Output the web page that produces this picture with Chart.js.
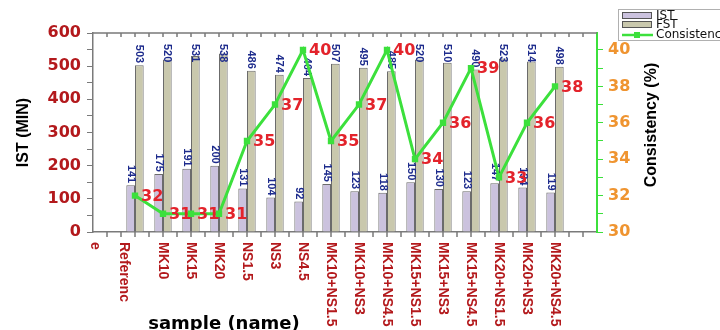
<!DOCTYPE html>
<html>
<head>
<meta charset="utf-8">
<title>IST / FST / Consistency</title>
<script src="https://cdn.jsdelivr.net/npm/chart.js@4/dist/chart.umd.min.js"></script>
<style>
    html, body { margin: 0; padding: 0; background: #fff; overflow: hidden; }
    #chart { display: block; }
</style>
</head>
<body>
<canvas id="chart" width="720" height="350"></canvas>
<script>
let categories = [['Referenc', 'e'], 'MK10', 'MK15', 'MK20', 'NS1.5', 'NS3', 'NS4.5',
    'MK10+NS1.5', 'MK10+NS3', 'MK10+NS4.5', 'MK15+NS1.5', 'MK15+NS3', 'MK15+NS4.5',
    'MK20+NS1.5', 'MK20+NS3', 'MK20+NS4.5'];
let istValues = [141, 175, 191, 200, 131, 104, 92, 145, 123, 118, 150, 130, 123, 147, 134, 119];
let fstValues = [503, 520, 531, 538, 486, 474, 464, 507, 495, 485, 520, 510, 490, 523, 514, 498];
let consistencyValues = [32, 31, 31, 31, 35, 37, 40, 35, 37, 40, 34, 36, 39, 33, 36, 38];
let istTicks = [0, 100, 200, 300, 400, 500, 600];
let consistencyTicks = [30, 32, 34, 36, 38, 40];
// right axis runs a little past 40 in the original
let consistencyMax = 40.93;

let istColor = '#cbc2de';
let fstColor = '#c9c8ad';
let lineColor = '#3ce03c';
let darkRed = '#b3191c';
let navy = '#1d2b8c';
let red = '#e3232b';
let orange = '#ef9430';
let axisGray = '#7a7a7a';

// the original axis leaves an empty slot at both ends
let labels = [''].concat(categories, ['']);
function pad(values) {
    return [null].concat(values, [null]);
}

function drawRotated(ctx, text, x, y, angle, align) {
    ctx.save();
    ctx.translate(x, y);
    ctx.rotate(angle);
    ctx.textAlign = align;
    ctx.textBaseline = 'middle';
    ctx.fillText(text, 0, 0);
    ctx.restore();
}

let decorations = {
    id: 'decorations',
    afterDatasetDraw(chart, args) {
        let meta = args.meta;
        if (meta.type !== 'bar') return;
        let ctx = chart.ctx;
        let top = chart.chartArea.top;
        let data = chart.data.datasets[args.index].data;
        ctx.save();
        ctx.font = 'bold 11px "Liberation Sans", Arial, sans-serif';
        ctx.fillStyle = navy;
        meta.data.forEach((bar, i) => {
            if (data[i] == null) return;
            let text = String(data[i]);
            let w = ctx.measureText(text).width;
            let endY = Math.max(bar.y - 2, top + 11 + w);
            drawRotated(ctx, text, bar.x, endY, Math.PI / 2, 'right');
        });
        ctx.restore();
    },
    afterDatasetsDraw(chart) {
        let ctx = chart.ctx;
        let area = chart.chartArea;
        let x = chart.scales.x;
        let step = x.getPixelForValue(1) - x.getPixelForValue(0);

        // frame top line and the small ticks on top and bottom
        ctx.save();
        ctx.strokeStyle = axisGray;
        ctx.lineWidth = 1.5;
        ctx.beginPath();
        ctx.moveTo(area.left, area.top);
        ctx.lineTo(area.right, area.top);
        for (let k = 1; k < labels.length * 2; k++) {
            let px = area.left + k * step / 2;
            ctx.moveTo(px, area.top);
            ctx.lineTo(px, area.top + 4);
            ctx.moveTo(px, area.bottom);
            ctx.lineTo(px, area.bottom + 5);
        }
        ctx.stroke();
        ctx.restore();

        // consistency values next to the points
        let lineMeta = chart.getDatasetMeta(0);
        let lineData = chart.data.datasets[0].data;
        ctx.save();
        ctx.font = 'bold 16px "DejaVu Sans", sans-serif';
        ctx.fillStyle = red;
        ctx.textAlign = 'left';
        ctx.textBaseline = 'middle';
        lineMeta.data.forEach((pt, i) => {
            if (lineData[i] == null) return;
            ctx.fillText(String(lineData[i]), pt.x + 6, pt.y + 1);
        });
        ctx.restore();

        // category names, read top to bottom
        ctx.save();
        ctx.font = 'bold 14px "Liberation Sans", Arial, sans-serif';
        ctx.fillStyle = darkRed;
        categories.forEach((name, i) => {
            let cx = x.getPixelForValue(i + 1);
            let lines = Array.isArray(name) ? name : [name];
            lines.forEach((line, j) => {
                let lx = lines.length > 1 ? cx - 11 - 29 * j : cx;
                drawRotated(ctx, line, lx, area.bottom + 10, Math.PI / 2, 'left');
            });
        });
        ctx.restore();

        // axis titles
        ctx.save();
        ctx.fillStyle = '#000';
        ctx.font = 'bold 16px "Liberation Sans", Arial, sans-serif';
        drawRotated(ctx, 'IST (MIN)', 24, (area.top + area.bottom) / 2, -Math.PI / 2, 'center');
        drawRotated(ctx, 'Consistency (%)', 652, 125, -Math.PI / 2, 'center');
        ctx.font = 'bold 18px "DejaVu Sans", sans-serif';
        ctx.textAlign = 'center';
        ctx.textBaseline = 'alphabetic';
        ctx.fillText('sample (name)', 224, 329);
        ctx.restore();

        // legend box in the top right corner
        ctx.save();
        ctx.strokeStyle = '#b0b0b0';
        ctx.lineWidth = 1;
        ctx.strokeRect(618.5, 9.5, 120, 31);
        ctx.strokeStyle = '#555';
        ctx.fillStyle = istColor;
        ctx.fillRect(622, 12, 30, 7);
        ctx.strokeRect(622.5, 12.5, 29, 6);
        ctx.fillStyle = fstColor;
        ctx.fillRect(622, 21, 30, 7);
        ctx.strokeRect(622.5, 21.5, 29, 6);
        ctx.strokeStyle = lineColor;
        ctx.lineWidth = 2.5;
        ctx.beginPath();
        ctx.moveTo(622, 35);
        ctx.lineTo(653, 35);
        ctx.stroke();
        ctx.fillStyle = lineColor;
        ctx.fillRect(634, 32, 6, 6);
        ctx.fillStyle = '#111';
        ctx.font = '12px "DejaVu Sans", sans-serif';
        ctx.textAlign = 'left';
        ctx.textBaseline = 'middle';
        ctx.fillText('IST', 656, 15.5);
        ctx.fillText('FST', 656, 25);
        ctx.fillText('Consistency', 656, 35);
        ctx.restore();
    }
};

function drawChart() {
    let ctx = document.getElementById('chart').getContext('2d');

    new Chart(ctx, {
        type: 'bar',
        data: {
            labels: labels,
            datasets: [{
                type: 'line',
                label: 'Consistency',
                data: pad(consistencyValues),
                yAxisID: 'y2',
                order: 0,
                borderColor: lineColor,
                backgroundColor: lineColor,
                borderWidth: 3,
                pointStyle: 'rect',
                pointRadius: 4.5,
                pointBorderWidth: 0,
                tension: 0
            }, {
                label: 'IST',
                data: pad(istValues),
                yAxisID: 'y',
                order: 1,
                backgroundColor: istColor,
                borderColor: '#6b6b6b',
                borderWidth: 1,
                barPercentage: 1,
                categoryPercentage: 0.62
            }, {
                label: 'FST',
                data: pad(fstValues),
                yAxisID: 'y',
                order: 2,
                backgroundColor: fstColor,
                borderColor: '#6b6b6b',
                borderWidth: 1,
                barPercentage: 1,
                categoryPercentage: 0.62
            }]
        },
        options: {
            responsive: false,
            animation: false,
            devicePixelRatio: 1,
            layout: { padding: { top: 33, left: 0, right: 0, bottom: 0 } },
            plugins: {
                legend: { display: false },
                tooltip: { enabled: false }
            },
            scales: {
                x: {
                    type: 'category',
                    offset: true,
                    grid: { display: false },
                    border: { display: true, color: axisGray, width: 1.5 },
                    ticks: { display: false },
                    afterFit: (scale) => { scale.height = 118; }
                },
                y: {
                    position: 'left',
                    min: istTicks[0],
                    max: istTicks[istTicks.length - 1],
                    grid: { drawOnChartArea: false, color: axisGray, tickLength: 6 },
                    border: { display: true, color: axisGray, width: 1.5 },
                    ticks: {
                        stepSize: 50,
                        autoSkip: false,
                        padding: 6,
                        color: darkRed,
                        font: { family: 'DejaVu Sans', weight: 'bold', size: 16 },
                        callback: (v) => istTicks.includes(v) ? v : ''
                    },
                    afterFit: (scale) => { scale.width = 93; }
                },
                y2: {
                    position: 'right',
                    min: consistencyTicks[0],
                    max: consistencyMax,
                    grid: { drawOnChartArea: false, color: lineColor, tickLength: 6 },
                    border: { display: true, color: lineColor, width: 2 },
                    ticks: {
                        autoSkip: false,
                        padding: 5,
                        color: orange,
                        font: { family: 'DejaVu Sans', weight: 'bold', size: 16 },
                        callback: (v) => consistencyTicks.includes(v) ? v : ''
                    },
                    afterBuildTicks: (axis) => {
                        let ticks = [];
                        let last = consistencyTicks[consistencyTicks.length - 1];
                        for (let v = consistencyTicks[0]; v <= last; v++) {
                            ticks.push({ value: v });
                        }
                        axis.ticks = ticks;
                    },
                    afterFit: (scale) => { scale.width = 123; }
                }
            }
        },
        plugins: [decorations]
    });
}

drawChart();
</script>
</body>
</html>
